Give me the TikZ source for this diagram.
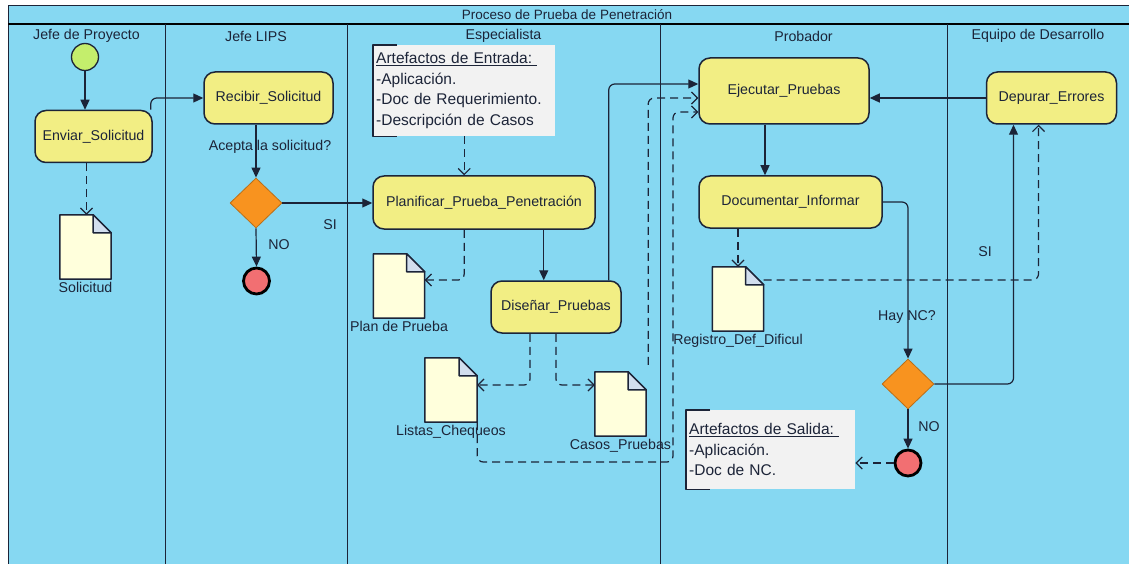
\documentclass[tikz,border=0pt]{standalone}
\usepackage{fontspec}
\setmainfont{Liberation Sans}
\usetikzlibrary{arrows.meta, positioning, shapes.geometric, calc}
\definecolor{laneBlue}{HTML}{86D8F2}
\definecolor{actYellow}{HTML}{F2EE84}
\definecolor{startGreen}{HTML}{C4EE6C}
\definecolor{endRed}{HTML}{F26F72}
\definecolor{gateOrange}{HTML}{F8931F}
\definecolor{docCream}{HTML}{FFFFDC}
\definecolor{docFold}{HTML}{D2DEEE}
\definecolor{noteGray}{HTML}{F2F2F2}
\definecolor{lineDark}{HTML}{1C2438}

\begin{document}
\begin{tikzpicture}[x=1pt, y=-1pt, line join=round,
    every node/.style={font=\fontsize{14.2}{16}\selectfont, text=lineDark},
    act/.style={draw=lineDark, fill=actYellow, line width=1.5, rounded corners=11,
      minimum height=52, inner sep=0},
    gate/.style={diamond, draw=gateOrange!75!black, fill=gateOrange, line width=0.8,
      minimum width=52, minimum height=50, inner sep=0},
    startc/.style={circle, draw=lineDark, fill=startGreen, line width=1.3, minimum size=27, inner sep=0},
    endc/.style={circle, draw=black, fill=endRed, line width=2.8, minimum size=26, inner sep=0},
    doc/.style={minimum width=51, minimum height=64, inner sep=0},
    doclbl/.style={inner sep=1},
    note/.style={fill=noteGray, anchor=north west, align=left, inner sep=3,
      font=\fontsize{15.5}{20.5}\selectfont},
    flow/.style={draw=lineDark, line width=1.2, rounded corners=6, -{Triangle[length=10, width=9]}},
    dflow/.style={draw=lineDark, line width=1.2, rounded corners=6, dash pattern=on 8 off 5,
      -{Straight Barb[length=6, width=12]}}]
  \useasboundingbox (0,0) rectangle (1129,564);

  % pool, title band and lanes
  \filldraw[fill=laneBlue, draw=lineDark, line width=1] (8,6) rectangle (1135,570);
  \draw[black, line width=2] (8,24) -- (1135,24);
  \node[font=\fontsize{13.5}{16}\selectfont] (title) at (567,15) {Proceso de Prueba de Penetración};
  \foreach \a/\b/\t in {8/165/Jefe de Proyecto, 165/347/Jefe LIPS, 347/660/Especialista,
      660/947/Probador, 947/1129/Equipo de Desarrollo}{
    \draw[lineDark, line width=1] (\b,24) -- (\b,570);
    \node (lane\a) at ({(\a+\b)/2},36) {\t};}

  % Jefe de Proyecto / Jefe LIPS
  \node[startc] (start) at (85,57) {};
  \node[act, minimum width=117] (env) at (93.5,136.5) {Enviar\_Solicitud};
  \node[doc] (sol) at (85.5,247) {};
  \node[act, minimum width=129] (rec) at (268.5,98) {Recibir\_Solicitud};
  \node (lblAcepta) at (270,147) {Acepta la solicitud?};
  \node[gate] (d1) at (256,203) {};
  \node[endc] (end1) at (256.5,281) {};
  \node (lblNo1) at (279,245) {NO};
  \node (lblSi1) at (330,225) {SI};

  % Especialista
  \node[note, minimum width=182, minimum height=91, text width=176] (noteIn) at (373,45)
    {\underline{Artefactos de Entrada:\ }\\-Aplicación.\\-Doc de Requerimiento.\\-Descripción de Casos};
  \node[act, minimum width=222, minimum height=53] (plan) at (484,202.5) {Planificar\_Prueba\_Penetración};
  \node[doc] (planDoc) at (399,286) {};
  \node[act, minimum width=130] (dis) at (556,307) {Diseñar\_Pruebas};
  \node[doc, minimum width=52] (listas) at (451,390) {};
  \node[doc] (casos) at (620.5,404) {};
  \coordinate (dLoop) at (673,462);

  % Probador / Equipo de Desarrollo
  \node[act, minimum width=170, minimum height=66] (ejec) at (784,91) {Ejecutar\_Pruebas};
  \node[act, minimum width=183] (docu) at (790.5,202) {Documentar\_Informar};
  \node[doc] (reg) at (738,299) {};
  \node[act, minimum width=130] (dep) at (1051.5,98) {Depurar\_Errores};
  \node (lblHay) at (907,317) {Hay NC?};
  \node[gate] (d2) at (908,384) {};
  \node[endc] (end2) at (908,463) {};
  \node (lblNo2) at (929,427) {NO};
  \node (lblSi2) at (985,252) {SI};
  \node[note, minimum width=169, minimum height=79, text width=163] (noteOut) at (686,410)
    {\underline{Artefactos de Salida:\ }\\-Aplicación.\\-Doc de NC.};

  % documents with folded corner
  \foreach \d in {sol, planDoc, listas, casos, reg}{
    \filldraw[fill=docCream, draw=lineDark, line width=1.5] (\d.south west) |- ([xshift=-18]\d.north east)
      -- ([yshift=-18]\d.north east) -- (\d.south east) -- cycle;
    \filldraw[fill=docFold, draw=lineDark, line width=1.5] ([xshift=-18]\d.north east)
      |- ([yshift=-18]\d.north east) -- cycle;}
  \node[doclbl, below=2pt of sol] (solT) {Solicitud};
  \node[doclbl, below=2pt of planDoc] (planDocT) {Plan de Prueba};
  \node[doclbl, below=2pt of listas] (listasT) {Listas\_Chequeos};
  \node[doclbl, below=2pt of casos] (casosT) {Casos\_Pruebas};
  \node[doclbl, below=2pt of reg] (regT) {Registro\_Def\_Dificul};

  % note brackets
  \foreach \n in {noteIn, noteOut}
    \draw[lineDark, line width=1.2] ([xshift=24]\n.north west) -| (\n.south west) -- ([xshift=24]\n.south west);

  % control flow
  \draw[flow] (start) -- (start |- env.north);
  \draw[flow] ([xshift=-2]env.north east) |- (rec.west);
  \draw[flow] (d1 |- rec.south) -- (d1.north);
  \draw[flow] (d1.south) -- (end1.north);
  \draw[flow] (d1.east) -- (d1.east -| plan.west);
  \draw[flow] ([xshift=-52]plan.south east) -- ([xshift=-52]plan.south east |- dis.north);
  \draw[flow] ([xshift=-13]dis.north east) |- ([yshift=7]ejec.west);
  \draw[flow] ([xshift=-19]ejec.south) -- ([xshift=-19]ejec.south |- docu.north);
  \draw[flow] (docu.east) -| (d2.north);
  \draw[flow] (d2.east) -| ([xshift=-38]dep.south);
  \draw[flow] (d2.south) -- (end2.north);
  \draw[flow] (dep.west) -- (dep.west -| ejec.east);

  % object flow
  \draw[dflow] ([xshift=-7]env.south |- env.south) -- ([xshift=-7]env.south |- sol.north);
  \draw[dflow] (noteIn.south) -- (noteIn.south |- plan.north);
  \draw[dflow] (noteIn.south |- plan.south) |- ([yshift=6]planDoc.east);
  \draw[dflow] ([xshift=-26]dis.south) |- ([yshift=5]listas.east);
  \draw[dflow] (dis.south) |- ([yshift=19]casos.west);
  \draw[dflow] ([xshift=2, yshift=7]casos.north east) |- ([yshift=-7]ejec.west);
  \draw[dflow] (listas.south east) |- (dLoop) |- ([yshift=-21]ejec.west);
  \draw[dflow] (reg.north |- docu.south) -- (reg.north);
  \draw[dflow] ([yshift=19]reg.east) -| ([xshift=-13]dep.south);
  \draw[dflow] (end2.west) -- (end2.west -| noteOut.east);
\end{tikzpicture}
\end{document}
